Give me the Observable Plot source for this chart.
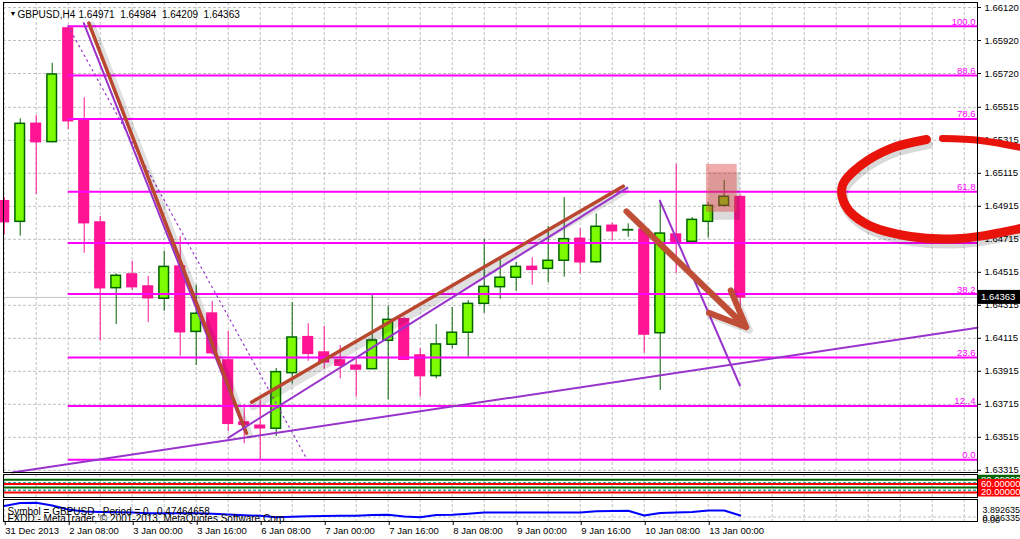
<!DOCTYPE html>
<html><head><meta charset="utf-8">
<script src="https://cdn.jsdelivr.net/npm/d3@7"></script>
<script src="https://cdn.jsdelivr.net/npm/@observablehq/plot@0.6"></script>
<style>
body{margin:0;background:#fff;}
#chart{position:relative;width:1020px;height:539px;overflow:hidden;background:#fff;}
#chart svg{position:absolute;left:0;}
</style></head><body><div id="chart"></div>
<script>
// ---- data (GBPUSD H4) ----
const opens  = [1.64946,1.64821,1.65415,1.65304,1.65993,1.65437,1.64817,1.64419,1.64502,1.64429,1.64355,1.64550,1.64154,1.64265,1.63981,1.63605,1.63585,1.63567,1.63904,1.64122,1.64029,1.63981,1.63949,1.63928,1.64100,1.64231,1.64011,1.63886,1.64076,1.64149,1.64324,1.64425,1.64482,1.64548,1.64536,1.64585,1.64718,1.64576,1.64797,1.64769,1.64773,1.64146,1.64744,1.64700,1.64821,1.64918,1.64971];
const highs  = [1.64968,1.65445,1.65465,1.65782,1.66007,1.65573,1.64853,1.64506,1.64582,1.64490,1.64643,1.64732,1.64437,1.64338,1.64158,1.63712,1.63738,1.63932,1.64332,1.64203,1.64187,1.64071,1.63999,1.64375,1.64310,1.64243,1.64052,1.64199,1.64302,1.64344,1.64714,1.64595,1.64575,1.64603,1.64793,1.64968,1.64779,1.64870,1.64815,1.64809,1.64775,1.64950,1.65169,1.64847,1.64940,1.65072,1.64984];
const lows   = [1.64742,1.64734,1.64987,1.65300,1.65381,1.64631,1.64098,1.64199,1.64405,1.64211,1.64279,1.64007,1.63950,1.64013,1.63550,1.63476,1.63379,1.63520,1.63839,1.63976,1.63930,1.63870,1.63758,1.63926,1.63742,1.63981,1.63758,1.63870,1.64052,1.64001,1.64267,1.64352,1.64399,1.64437,1.64452,1.64486,1.64506,1.64570,1.64704,1.64728,1.64025,1.63799,1.64510,1.64682,1.64724,1.64910,1.64209];
const closes = [1.64819,1.65415,1.65304,1.65714,1.65431,1.64813,1.64419,1.64494,1.64425,1.64358,1.64548,1.64152,1.64264,1.64025,1.63597,1.63591,1.63570,1.63910,1.64120,1.64021,1.63970,1.63949,1.63926,1.64102,1.64227,1.63985,1.63886,1.64078,1.64149,1.64324,1.64427,1.64482,1.64548,1.64530,1.64585,1.64716,1.64576,1.64791,1.64764,1.64771,1.64138,1.64750,1.64694,1.64833,1.64918,1.64973,1.64363];
// lower indicator line (arbitrary units)
const indicatorLine = [2.2,2.8,2.84,2.3,1.5,1.1,1.0,0.96,0.9,0.76,0.76,0.76,0.76,0.64,0.5,0.36,0.24,-0.04,0.04,0.14,0.2,0.24,0.24,0.4,0.44,0.1,-0.04,0.4,0.44,0.64,0.9,0.9,0.9,0.9,0.9,0.9,0.9,1.16,1.2,1.24,0.3,0.8,0.9,1.0,1.3,1.3,0.3];

const dateTickBars = [0,4,8,12,16,20,24,28,32,36,40,44];
const dateTickLabels = ["31 Dec 2013","2 Jan 08:00","3 Jan 00:00","3 Jan 16:00","6 Jan 08:00","7 Jan 00:00","7 Jan 16:00","8 Jan 08:00","9 Jan 00:00","9 Jan 16:00","10 Jan 08:00","13 Jan 00:00"];
const priceTicks = [1.66120,1.65920,1.65720,1.65515,1.65315,1.65115,1.64915,1.64715,1.64515,1.64315,1.64115,1.63915,1.63715,1.63515,1.63315];

const fibLevels = [100, 88.6, 78.6, 61.8, 50, 38.2, 23.6, 12.4, 0];
const fibLabels = ["100.0","88.6","78.6","61.8","","38.2","23.6","12..4","0.0"];

// hand-drawn objects, in (bar, price)
const downLineBrown   = [[5.29,1.66025],[15.14,1.63540]];
const downLinePurple  = [[4.975,1.66025],[15.02,1.63556]];
const fibDiagonal     = [[4.0,1.66007],[18.94,1.63379]];
const channelBrown    = [[15.46,1.63728],[38.69,1.65037]];
const channelPurple   = [[14.0,1.63512],[38.94,1.65027]];
const supportPurple   = [[0.5,1.63302],[60.83,1.64179]];
const steepPurple     = [[40.98,1.64950],[45.98,1.63829]];
const arrowDown       = [{x1:38.89,y1:1.64884,x2:46.38,y2:1.64182}];
const zone            = [{x1:43.89,x2:45.81,y1:1.64879,y2:1.65169}];
const ellipseTop      = [[63.52,1.65272],[61.02,1.65314],[58.64,1.65326]];
const ellipseMain     = [[57.64,1.65320],[55.39,1.65265],[53.52,1.65162],[52.39,1.65041],[52.58,1.64920],[53.83,1.64811],[56.64,1.64732],[59.77,1.64720],[63.52,1.64781]];

const headerName = "GBPUSD,H4";
const headerValues = "1.64971  1.64984  1.64209  1.64363";
const symbolText = "Symbol = GBPUSD , Period = 0,  0.47464658";
const copyrightText = "FXDD - MetaTrader, \u00a9 2001-2013, MetaQuotes Software Corp.";

// pane-1 levels
const paneLevelsGreen = [80, 44];
const paneLevelsRed = [60, 20];
const paneLevelsTeal = [66, 31];
const paneTags = [{v:80,label:"80.00000",bg:"#006400"},{v:60,label:"60.00000",bg:"#FF0000"},{v:20,label:"20.00000",bg:"#FF0000"}];

// ---- build ----
const bars = d3.range(opens.length).map(i => ({i, open: opens[i], high: highs[i], low: lows[i], close: closes[i]}));
const isBull = d => d.close >= d.open;
const xDom = [-0.044, 60.83];
const font = "'Liberation Sans', Arial, sans-serif";
const fibStart = d3.maxIndex(highs);
const fibHigh = highs[fibStart], fibLow = d3.min(lows);
const fibRows = fibLevels.map((lv, k) => ({lv, label: fibLabels[k], price: fibLow + lv / 100 * (fibHigh - fibLow)}));
const gridBars = d3.range(0, 61, 2);
const last = bars[bars.length - 1];

const BROWN = "#B9472F", PURPLE = "#9933CC", MAGENTA = "#FF00FF";
const P = d => d[0], Q = d => d[1];

const main = Plot.plot({
  width: 1020, height: 473,
  marginLeft: 3, marginRight: 43, marginTop: 2, marginBottom: 1,
  x: {domain: xDom, axis: null},
  y: {domain: [1.633018, 1.661503], axis: null},
  style: {fontFamily: font, fontSize: "9px", background: "transparent", overflow: "visible"},
  marks: [
    Plot.ruleX(gridBars, {stroke: "#c0c0c0", strokeDasharray: "3,2"}),
    Plot.ruleY(priceTicks, {stroke: "#c0c0c0", strokeDasharray: "3,2"}),
    Plot.ruleY([last.close], {stroke: "#c0c0c0"}),
    Plot.ruleX(bars, {x: "i", y1: "low", y2: "high", stroke: d => isBull(d) ? "#006400" : "#FF1493", strokeWidth: 1}),
    Plot.rect(bars, {x1: d => d.i - 0.3, x2: d => d.i + 0.3, y1: "open", y2: "close",
      fill: d => isBull(d) ? "#7CFC00" : "#FF1493", stroke: d => isBull(d) ? "#006400" : "#FF1493", strokeWidth: 1.5}),
    Plot.ruleY(fibRows, {y: "price", x1: fibStart, x2: xDom[1], stroke: MAGENTA, strokeWidth: 2}),
    Plot.text(fibRows, {y: "price", x: xDom[1], text: "label", textAnchor: "end", lineAnchor: "bottom", dx: -2, dy: -1.5, fill: MAGENTA, fontSize: 9.5}),
    // trend lines
    Plot.line(supportPurple, {x: P, y: Q, stroke: PURPLE, strokeWidth: 2}),
    Plot.line(steepPurple, {x: P, y: Q, stroke: PURPLE, strokeWidth: 2}),
    Plot.line(fibDiagonal, {x: P, y: Q, stroke: PURPLE, strokeWidth: 1.2, strokeDasharray: "1.5,4"}),
    Plot.line(downLineBrown, {x: P, y: Q, stroke: "#000", strokeOpacity: 0.12, strokeWidth: 7, dx: 3, dy: 2}),
    Plot.line(downLinePurple, {x: P, y: Q, stroke: PURPLE, strokeWidth: 2}),
    Plot.line(downLineBrown, {x: P, y: Q, stroke: BROWN, strokeWidth: 3.5}),
    Plot.line(channelBrown, {x: P, y: Q, stroke: "#000", strokeOpacity: 0.12, strokeWidth: 8, dx: 2, dy: 4}),
    Plot.line(channelPurple, {x: P, y: Q, stroke: PURPLE, strokeWidth: 2}),
    Plot.line(channelBrown, {x: P, y: Q, stroke: BROWN, strokeWidth: 3.5}),
    // arrow
    Plot.arrow(arrowDown, {x1: "x1", y1: "y1", x2: "x2", y2: "y2", stroke: "#000", strokeOpacity: 0.12, strokeWidth: 7, headAngle: 46, headLength: 9, dx: 3, dy: 3}),
    Plot.arrow(arrowDown, {x1: "x1", y1: "y1", x2: "x2", y2: "y2", stroke: "#C04E36", strokeWidth: 6, headAngle: 46, headLength: 10}),
    // zone box
    Plot.rect(zone, {x1: "x1", x2: "x2", y1: "y1", y2: "y2", fill: "#000", fillOpacity: 0.14, dx: 3, dy: 8}),
    Plot.rect(zone, {x1: "x1", x2: "x2", y1: "y1", y2: "y2", fill: "#E04848", fillOpacity: 0.45}),
    // price axis
    Plot.axisY(priceTicks, {anchor: "right", tickSize: 3, tickPadding: 4, tickFormat: d => d.toFixed(5), label: null, fontSize: 9.5, fill: "#000"}),
    // ellipse
    Plot.line(ellipseMain, {x: P, y: Q, curve: "catmull-rom", stroke: "#000", strokeOpacity: 0.15, strokeWidth: 9, dx: 2, dy: 5}),
    Plot.line(ellipseTop, {x: P, y: Q, curve: "catmull-rom", stroke: "#E8140C", strokeWidth: 7}),
    Plot.line(ellipseMain, {x: P, y: Q, curve: "catmull-rom", stroke: "#E8140C", strokeWidth: 9}),
    Plot.frame({stroke: "#000"}),
    Plot.text(["\u25BC"], {frameAnchor: "top-left", dx: 6, dy: 8.5, fontSize: 7, fill: "#000"}),
    Plot.text([headerName], {frameAnchor: "top-left", dx: 14, dy: 8.5, textAnchor: "start", fontSize: 10, fill: "#000"}),
    Plot.text([headerValues], {frameAnchor: "top-left", dx: 75, dy: 8.5, textAnchor: "start", fontSize: 10, fill: "#000"})
  ]
});

const pane1 = Plot.plot({
  width: 1020, height: 25,
  marginLeft: 3, marginRight: 43, marginTop: 1, marginBottom: 1,
  x: {domain: xDom, axis: null},
  y: {domain: [-3.5, 104.7], axis: null},
  style: {fontFamily: font, fontSize: "9px", background: "transparent", overflow: "visible"},
  marks: [
    Plot.ruleX(gridBars, {stroke: "#c0c0c0", strokeDasharray: "3,2"}),
    Plot.ruleY(paneLevelsTeal, {stroke: "#20B2AA", strokeDasharray: "3,2", strokeWidth: 1.5}),
    Plot.ruleY(paneLevelsGreen, {stroke: "#006400", strokeWidth: 2}),
    Plot.ruleY(paneLevelsRed, {stroke: "#FF0000", strokeWidth: 2}),
    Plot.frame({stroke: "#000"})
  ]
});

const pane2 = Plot.plot({
  width: 1020, height: 41,
  marginLeft: 3, marginRight: 43, marginTop: 1, marginBottom: 18,
  x: {domain: xDom, axis: null},
  y: {domain: [-0.9, 3.5], axis: null},
  style: {fontFamily: font, fontSize: "9px", background: "transparent", overflow: "visible"},
  marks: [
    Plot.ruleX(gridBars, {stroke: "#c0c0c0", strokeDasharray: "3,2"}),
    Plot.ruleY([0], {stroke: "#c0c0c0", strokeDasharray: "3,2"}),
    Plot.line(bars, {x: "i", y: d => indicatorLine[d.i], stroke: "#0000FF", strokeWidth: 2}),
    Plot.text([symbolText], {frameAnchor: "top-left", dx: 4, dy: 8, textAnchor: "start", fontSize: 10, fill: "#000"}),
    Plot.text([copyrightText], {frameAnchor: "top-left", dx: 4, dy: 15, textAnchor: "start", fontSize: 10, fill: "#000"}),
    Plot.text(["3.892635"], {frameAnchor: "top-right", dx: 5, dy: 7, textAnchor: "start", fontSize: 9, fill: "#000"}),
    Plot.text(["0.026335"], {frameAnchor: "top-right", dx: 5, dy: 15, textAnchor: "start", fontSize: 9, fill: "#000"}),
    Plot.text(["0.00"], {frameAnchor: "top-right", dx: 5, dy: 17, textAnchor: "start", fontSize: 9, fill: "#000"}),
    Plot.axisX(dateTickBars, {anchor: "bottom", tickSize: 4, tickPadding: 2, textAnchor: "start", dx: 1, label: null,
      tickFormat: d => dateTickLabels[dateTickBars.indexOf(d)], fontSize: 9.5, fill: "#000"}),
    Plot.frame({stroke: "#000"})
  ]
});

function tag(svg, yPx, label, bg, fg, h) {
  const g = d3.select(svg).append("g").attr("text-anchor", "start");
  g.append("rect").attr("x", 978).attr("y", yPx - h / 2).attr("width", 42).attr("height", h).attr("fill", bg);
  g.append("text").attr("x", 981).attr("y", yPx).attr("dy", "0.35em").attr("fill", fg).attr("text-anchor", "start")
    .attr("font-size", 9.5).attr("font-family", font).text(label);
}
tag(main, main.scale("y").apply(last.close), last.close.toFixed(5), "#000", "#fff", 14);
const y1s = pane1.scale("y");
paneTags.forEach(t => tag(pane1, y1s.apply(t.v), t.label, t.bg, "#fff", 9));

const chart = document.getElementById("chart");
main.style.top = "0px"; pane1.style.top = "473px"; pane2.style.top = "498px";
chart.append(main, pane1, pane2);
</script>
</body></html>
